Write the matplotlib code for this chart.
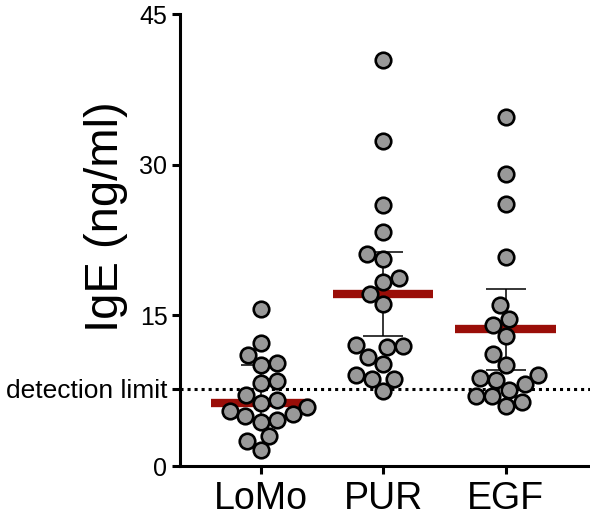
import numpy as np
import matplotlib.pyplot as plt

plt.rcParams['font.family'] = ['Liberation Sans', 'DejaVu Sans']

groups = ['LoMo', 'PUR', 'EGF']
lomo = [15.6, 12.2, 11.1, 10.3, 10.1, 8.5, 8.3, 7.1, 6.6, 6.3,
        5.9, 5.5, 5.2, 5.0, 4.6, 4.4, 3.0, 2.5, 1.6]
pur = [40.4, 32.4, 26.0, 23.3, 21.1, 20.6, 18.7, 18.3, 17.1, 16.1,
       12.0, 11.9, 11.8, 10.9, 10.2, 9.1, 8.7, 8.7, 7.5]
egf = [34.7, 29.1, 26.1, 20.8, 16.0, 14.6, 14.0, 12.9, 11.2, 10.1,
       9.1, 8.8, 8.6, 8.2, 7.6, 7.0, 7.0, 6.4, 6.0]
centre = [6.3, 17.1, 13.6]
err_low = [4.7, 12.9, 9.6]
err_high = [10.1, 21.3, 17.6]
detection_limit = 7.7
yticks = [0, 15, 30, 45]

dark_red = '#9a0e08'
dot_grey = '#999999'


def swarm_x(ax, x0, vals, diam):
    # simple beeswarm in pixel space, lowest values first
    trans = ax.transData
    pts = trans.transform(np.column_stack([np.full(len(vals), x0), vals]))
    placed = []
    xs = np.zeros(len(vals))
    for i in np.argsort(pts[:, 1]):
        cx, cy = pts[i]
        cands = [cx]
        for px, py in placed:
            dy = abs(cy - py)
            if dy < diam:
                dx = np.sqrt(diam ** 2 - dy ** 2)
                cands += [px - dx, px + dx]
        cands.sort(key=lambda c: abs(c - cx))
        for c in cands:
            if all((c - px) ** 2 + (cy - py) ** 2 >= diam ** 2 - 1e-6 for px, py in placed):
                break
        placed.append((c, cy))
        xs[i] = c
    return trans.inverted().transform(np.column_stack([xs, pts[:, 1]]))[:, 0]


fig = plt.figure(figsize=(5.9, 5.2), dpi=100)
ax = fig.add_axes([180 / 590, 54 / 520, 410 / 590, 452 / 520])
ax.set_xlim(-0.66, 2.69)
ax.set_ylim(0, 45)

pos = np.arange(len(groups))

ax.axhline(detection_limit, color='black', ls=(0, (1, 1.3)), lw=2.2, zorder=1)

ax.errorbar(pos, centre,
            yerr=[np.array(centre) - np.array(err_low), np.array(err_high) - np.array(centre)],
            fmt='none', ecolor='black', elinewidth=1.1, capsize=14.5, capthick=1.1, zorder=2)
ax.hlines(centre, pos - 0.41, pos + 0.41, colors=dark_red, lw=6, zorder=3)

for p, vals in zip(pos, [lomo, pur, egf]):
    xs = swarm_x(ax, p, vals, 16.5)
    ax.scatter(xs, vals, s=125, c=dot_grey, edgecolors='black', linewidths=1.9,
               zorder=4, clip_on=False)

ax.spines['top'].set_visible(False)
ax.spines['right'].set_visible(False)
ax.spines['left'].set_linewidth(2.2)
ax.spines['bottom'].set_linewidth(2.2)

ax.set_yticks(yticks + [detection_limit])
ax.set_yticklabels([str(t) for t in yticks] + ['detection limit'], fontsize=18)
ax.get_yticklabels()[-1].set_fontsize(19)
ax.set_xticks(pos)
ax.set_xticklabels(groups, fontsize=27)
ax.tick_params(axis='both', direction='out', length=6, width=2.2, color='black')
ax.tick_params(axis='y', pad=3)
ax.tick_params(axis='x', pad=5)

ax.set_ylabel('IgE (ng/ml)', fontsize=34)
ax.yaxis.set_label_coords(-0.127, 0.551)

fig.savefig('out.png', dpi=100)
